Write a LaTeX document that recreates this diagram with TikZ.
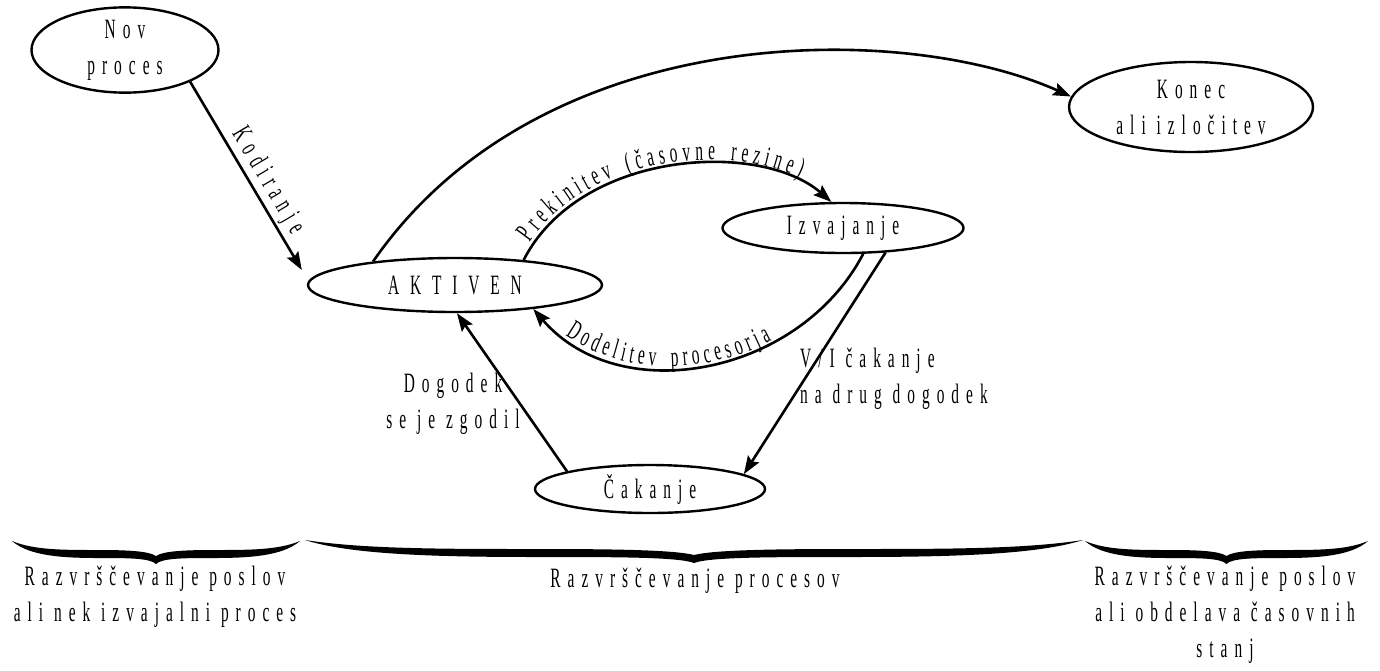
\documentclass[tikz,border=0pt]{standalone}
\usepackage{fontspec}
\newfontfamily\cf[FakeStretch=0.55,LetterSpace=25]{Liberation Serif}
\usetikzlibrary{shapes.geometric,arrows.meta,decorations.text,calc}
\newcommand\lf{\cf\fontsize{28pt}{36pt}\selectfont}
\newcommand\lsp[1]{#1\kern4.6pt}
\newcommand\calbrace[3]{%
 \pgfmathsetmacro\brA{#1}\pgfmathsetmacro\brB{#2}%
 \pgfmathsetmacro\brM{(#1+#2)/2}\pgfmathsetmacro\brH{(#2-#1)/2}%
 \pgfmathsetmacro\brY{#3}%
 \fill (\brA,\brY)
  .. controls ({\brA+0.15*\brH},{\brY+9}) and ({\brA+0.35*\brH},{\brY+9}) .. ({\brA+0.6*\brH},{\brY+9})
  .. controls ({\brM-0.2*\brH},{\brY+9}) and ({\brM-0.05*\brH},{\brY+10}) .. (\brM,{\brY+15})
  .. controls ({\brM+0.05*\brH},{\brY+10}) and ({\brM+0.2*\brH},{\brY+9}) .. ({\brB-0.6*\brH},{\brY+9})
  .. controls ({\brB-0.35*\brH},{\brY+9}) and ({\brB-0.15*\brH},{\brY+9}) .. (\brB,\brY)
  .. controls ({\brB-0.12*\brH},{\brY+15}) and ({\brB-0.35*\brH},{\brY+17}) .. ({\brB-0.6*\brH},{\brY+17})
  .. controls ({\brM+0.2*\brH},{\brY+17}) and ({\brM+0.04*\brH},{\brY+17}) .. (\brM,{\brY+23})
  .. controls ({\brM-0.04*\brH},{\brY+17}) and ({\brM-0.2*\brH},{\brY+17}) .. ({\brA+0.6*\brH},{\brY+17})
  .. controls ({\brA+0.35*\brH},{\brY+17}) and ({\brA+0.12*\brH},{\brY+15}) .. cycle;
}
\begin{document}
\begin{tikzpicture}[x=1pt,y=-1pt,
  state/.style={ellipse, draw, line width=2.4pt, inner sep=0pt, font=\lf, align=center},
  arr/.style={line width=2.6pt, -{Stealth[length=18pt,width=13pt,inset=3pt]}},
  lbl/.style={font=\lf, align=center, inner sep=0pt},
  curvetext/.style={decorate, decoration={text along path, text align={left indent=#1}}},
]
\useasboundingbox (0,0) rectangle (1380,670);
\node[state, minimum width=187pt, minimum height=84pt] (nov) at (125,50) {Nov\\proces};
\node[state, minimum width=244pt, minimum height=90pt] (kon) at (1191,107) {Konec\\ali izločitev};
\node[state, minimum width=294pt, minimum height=54pt] (akt) at (455,285) {A K T I V E N};
\node[state, minimum width=241pt, minimum height=50pt] (izv) at (843,228) {Izvajanje};
\node[state, minimum width=230pt, minimum height=48pt] (cak) at (650,489) {Čakanje};

% Nov -> AKTIVEN
\draw[arr] (nov.-26) -- node[pos=0.57, sloped, above=2pt, lbl] (lkod) {Kodiranje} ($(akt.west)+(-5,-15)$);
% AKTIVEN -> Konec
\draw[arr] (akt.164) .. controls (540,20) and (900,20) .. (kon.175);
% AKTIVEN -> Izvajanje
\draw[arr] (akt.20) .. controls (580,150) and (760,140) .. (izv.114);
\path[curvetext=18pt, decoration={raise=4pt, text={|\lf|{\lsp P}{\lsp r}{\lsp e}{\lsp k}{\lsp i}{\lsp n}{\lsp i}{\lsp t}{\lsp e}{\lsp v} {\lsp (}{\lsp č}{\lsp a}{\lsp s}{\lsp o}{\lsp v}{\lsp n}{\lsp e} {\lsp r}{\lsp e}{\lsp z}{\lsp i}{\lsp n}{\lsp e}{)}}}]
  (akt.20) .. controls (580,150) and (760,140) .. (izv.114);
% Izvajanje -> AKTIVEN
\draw[arr] (izv.-52) .. controls (800,375) and (620,410) .. (akt.-17);
\path[curvetext=42pt, decoration={raise=2pt, text={|\lf|{\lsp D}{\lsp o}{\lsp d}{\lsp e}{\lsp l}{\lsp i}{\lsp t}{\lsp e}{\lsp v} {\lsp p}{\lsp r}{\lsp o}{\lsp c}{\lsp e}{\lsp s}{\lsp o}{\lsp r}{\lsp j}{a}}}]
  (akt.-17) .. controls (620,410) and (800,375) .. (izv.-52);
% Izvajanje -> Cakanje
\draw[arr] (izv.-30) -- (cak.9);
% Cakanje -> AKTIVEN
\draw[arr] (cak.168) -- (akt.-86);

\node[lbl] (ldog) at (453,404) {Dogodek\\se je zgodil};
\node[lbl, align=left, anchor=west] (lvi) at (800,379) {V/I čakanje\\na drug dogodek};

% braces
\calbrace{12}{300}{541}
\calbrace{305}{1083}{540}
\calbrace{1085}{1368}{541}

\node[lbl, anchor=north] (b1) at (155,566) {Razvrščevanje poslov\\ali nek izvajalni proces};
\node[lbl, anchor=north] (b2) at (695,568) {Razvrščevanje procesov};
\node[lbl, anchor=north] (b3) at (1225,566) {Razvrščevanje poslov\\ali obdelava časovnih\\stanj};
\end{tikzpicture}
\end{document}
